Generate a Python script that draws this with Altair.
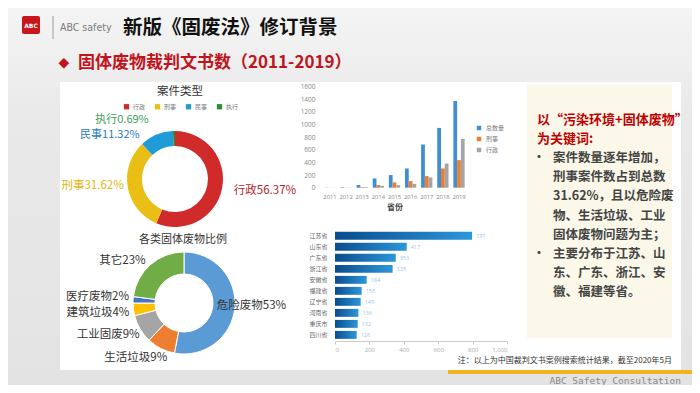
import altair as alt
import pandas as pd

W, H = 684, 377
CJK = "Noto Sans CJK SC"

# ---------------- data ----------------
case_types = ["行政", "刑事", "民事", "执行"]
case_pct = [56.37, 31.62, 11.32, 0.69]
case_colors = ["#d12a2a", "#e9bf16", "#1f9bd8", "#2e8b35"]
case_label_colors = ["#b0262b", "#e3b614", "#2a7bbf", "#3e9e5a"]

waste_types = ["危险废物", "生活垃圾", "工业固废", "建筑垃圾", "医疗废物", "其它"]
waste_pct = [53, 9, 9, 4, 2, 23]
waste_colors = ["#5b9bd5", "#ed7d31", "#a5a5a5", "#ffc000", "#4472c4", "#70ad47"]

years = ["2011", "2012", "2013", "2014", "2015", "2016", "2017", "2018", "2019"]
series = ["总数量", "刑事", "行政"]
total_cases = [3, 8, 42, 147, 200, 305, 684, 947, 1373]
criminal_cases = [1, 2, 10, 42, 84, 105, 184, 305, 437]
admin_cases = [1, 3, 10, 30, 40, 60, 163, 384, 773]
series_colors = ["#3f8fd4", "#ed7d31", "#a5a5a5"]
year_ticks = [0, 200, 400, 600, 800, 1000, 1200, 1400, 1600]

provinces = ["江苏省", "山东省", "广东省", "浙江省", "安徽省", "福建省", "辽宁省", "河南省", "重庆市", "四川省"]
province_cases = [797, 417, 353, 335, 184, 155, 149, 136, 132, 126]
province_ticks = [0, 200, 400, 600, 800, 1000]

box_lines = ["以“污染环境+固体废物”", "为关键词:",
             "案件数量逐年增加，", "刑事案件数占到总数", "31.62%，且以危险废",
             "物、生活垃圾、工业", "固体废物问题为主；",
             "主要分布于江苏、山", "东、广东、浙江、安", "徽、福建等省。"]
bullet_rows = [2, 7]

# ---------------- tables ----------------
case_df = pd.DataFrame({"cat": case_types, "pct": case_pct, "i": range(len(case_types)),
                        "label": [f"{c}{p:.2f}%" for c, p in zip(case_types, case_pct)]})
waste_df = pd.DataFrame({"cat": waste_types, "pct": waste_pct, "i": range(len(waste_types)),
                         "label": [f"{c}{p}%" for c, p in zip(waste_types, waste_pct)]})
rows = []
for yi, y in enumerate(years):
    for s, vals in zip(series, [total_cases, criminal_cases, admin_cases]):
        rows.append({"year": y, "series": s, "value": vals[yi]})
year_df = pd.DataFrame(rows)
prov_df = pd.DataFrame({"prov": provinces, "n": province_cases})
lines_df = pd.DataFrame({"i": range(len(box_lines)), "t": box_lines,
                         "kind": ["kw", "kw"] + ["body"] * 8})
bullet_df = pd.DataFrame({"i": bullet_rows, "t": ["•"] * len(bullet_rows)})
one = pd.DataFrame({"a": [0]})


def deco_rect(x, x2, y, y2, color, **kw):
    return alt.Chart(one).mark_rect(color=color, **kw).encode(
        x=alt.value(x), x2=alt.value(x2), y=alt.value(y), y2=alt.value(y2))


def label_text(txt, x, y, size, color, weight="normal", align="left", font=CJK, baseline="middle"):
    return alt.Chart(pd.DataFrame({"t": [txt]})).mark_text(
        align=align, baseline=baseline, fontSize=size, color=color, fontWeight=weight, font=font
    ).encode(x=alt.value(x), y=alt.value(y), text="t:N")


layers = []

# backgrounds
bg_grad = alt.Gradient(gradient="linear", x1=0, x2=0, y1=0, y2=1,
                       stops=[alt.GradientStop(color="#f4f4f4", offset=0),
                              alt.GradientStop(color="#e9e9e9", offset=0.3),
                              alt.GradientStop(color="#e3e3e3", offset=1)])
layers.append(deco_rect(0, W, 0, H, bg_grad))
layers.append(deco_rect(52, 673, 74, 362, "#ffffff"))
layers.append(deco_rect(519, 664, 77, 330, "#fbf8e9"))
layers.append(deco_rect(440, W, 362, 366, "#f2b41e"))

# header
layers.append(deco_rect(14, 32, 8, 26, "#c8161d", cornerRadius=2))
layers.append(label_text("ABC", 23, 18, 6, "#ffffff", weight="bold", align="center", font="DejaVu Sans"))
layers.append(alt.Chart(one).mark_rule(color="#9a9a9a", strokeWidth=1).encode(
    x=alt.value(45), y=alt.value(8), y2=alt.value(31)))
layers.append(label_text("ABC safety", 52, 20, 10.5, "#7a7a7a",
                         font="Liberation Sans Narrow, DejaVu Sans Condensed, sans-serif"))
layers.append(label_text("新版《固废法》修订背景", 115, 20, 19.5, "#111111", weight="bold"))
layers.append(label_text("◆", 56, 55, 14, "#c0141c", align="center", font="DejaVu Sans"))
layers.append(label_text("固体废物裁判文书数（2011-2019）", 70, 55, 17, "#c0141c", weight="bold"))

# donut 1: case types
C1X, C1Y = 167, 171
layers.append(label_text("案件类型", 172, 84, 11.5, "#333333", align="center"))
layers.append(alt.Chart(case_df).mark_arc(outerRadius=48, innerRadius=33).encode(
    theta=alt.Theta("pct:Q", stack=True),
    order=alt.Order("i:Q"),
    color=alt.Color("cat:N", scale=alt.Scale(domain=case_types, range=case_colors),
                    legend=alt.Legend(orient="none", legendX=115, legendY=95, direction="horizontal",
                                      title=None, symbolType="square", symbolSize=28,
                                      labelFontSize=6, labelFont=CJK, labelColor="#777777",
                                      columnPadding=8, symbolOffset=0, labelOffset=3)),
    x=alt.value(C1X), y=alt.value(C1Y)))


def donut_label(df, cat, cx, cy, r, align, dx, dy, color, size=11.5):
    return alt.Chart(df).transform_window(
        cum="sum(pct)", sort=[alt.SortField("i")]
    ).transform_calculate(mid="datum.cum - datum.pct / 2").transform_filter(
        alt.datum.cat == cat
    ).mark_text(align=align, baseline="middle", dx=dx, dy=dy, fontSize=size, color=color, font=CJK).encode(
        theta=alt.Theta("mid:Q", scale=alt.Scale(domain=[0, 100]), stack=None),
        radius=alt.value(r), x=alt.value(cx), y=alt.value(cy), text="label:N")


layers.append(donut_label(case_df, "行政", C1X, C1Y, 60, "left", 0, 0, case_label_colors[0]))
layers.append(donut_label(case_df, "刑事", C1X, C1Y, 52, "right", 0, -2, case_label_colors[1]))
layers.append(donut_label(case_df, "民事", C1X, C1Y, 55, "right", -14, 7, case_label_colors[2], 11))
layers.append(donut_label(case_df, "执行", C1X, C1Y, 57, "right", -25, -2, case_label_colors[3], 11))

# donut 2: waste categories
C2X, C2Y = 176, 295
layers.append(label_text("各类固体废物比例", 175, 232, 11, "#333333", align="center"))
layers.append(alt.Chart(waste_df).mark_arc(outerRadius=51, innerRadius=29, stroke="#ffffff", strokeWidth=1).encode(
    theta=alt.Theta("pct:Q", stack=True),
    order=alt.Order("i:Q"),
    color=alt.Color("cat:N", scale=alt.Scale(domain=waste_types, range=waste_colors), legend=None),
    x=alt.value(C2X), y=alt.value(C2Y)))
layers.append(donut_label(waste_df, "危险废物", C2X, C2Y, 33, "left", 0, 0, "#333333"))
layers.append(donut_label(waste_df, "生活垃圾", C2X, C2Y, 62, "center", -20, 0, "#333333"))
layers.append(donut_label(waste_df, "工业固废", C2X, C2Y, 55, "right", 3, 4, "#333333"))
layers.append(donut_label(waste_df, "建筑垃圾", C2X, C2Y, 55, "right", 0, 3, "#333333"))
layers.append(donut_label(waste_df, "医疗废物", C2X, C2Y, 55, "right", 0, -3, "#333333"))
layers.append(donut_label(waste_df, "其它", C2X, C2Y, 58, "right", 0, 2, "#333333"))

# grouped column chart by year
layers.append(alt.Chart(year_df).mark_bar().encode(
    x=alt.X("year:N", sort=years,
            scale=alt.Scale(range=[310.7, 462.3], paddingInner=0.3, paddingOuter=0.35),
            axis=alt.Axis(orient="bottom", offset=180 - H, title="省份", titleFont=CJK,
                          titleFontSize=8, titleFontWeight="bold", titleColor="#444444",
                          titlePadding=5, labelFontSize=5.8, labelColor="#888888",
                          labelAngle=0, labelPadding=5, domain=False, ticks=False, grid=False,
                          labelFont="Open Sans", labelOverlap=False, zindex=1)),
    xOffset=alt.XOffset("series:N", sort=series),
    y=alt.Y("value:Q", scale=alt.Scale(domain=[0, 1600], range=[179.7, 78.7], nice=False),
            axis=alt.Axis(orient="left", offset=-309, title=None, values=year_ticks, format="d",
                          labelFontSize=6.5, labelColor="#888888", domain=False, ticks=False,
                          grid=False, labelPadding=2, labelFont="Open Sans", zindex=1)),
    color=alt.Color("series:N", scale=alt.Scale(domain=series, range=series_colors),
                    legend=alt.Legend(orient="none", legendX=468, legendY=117, direction="vertical",
                                      title=None, symbolType="square", symbolSize=20,
                                      labelFontSize=6, labelFont=CJK, labelColor="#777777",
                                      rowPadding=5, labelOffset=4))))

# horizontal province bars
bar_grad = alt.Gradient(gradient="linear", x1=0, x2=1, y1=0, y2=0,
                        stops=[alt.GradientStop(color="#0a4c8c", offset=0),
                               alt.GradientStop(color="#2b97da", offset=1)])
prov_x = alt.Scale(domain=[0, 1000], range=[327, 499], nice=False)
prov_y = alt.Scale(domain=provinces, range=[222.2, 332.5], paddingInner=0.28, paddingOuter=0.15)
prov_bars = alt.Chart(prov_df).mark_bar(color=bar_grad).encode(
    x=alt.X("n:Q", scale=prov_x,
            axis=alt.Axis(orient="bottom", offset=333 - H, title=None, values=province_ticks,
                          labelFontSize=6, labelColor="#aaaaaa", domainColor="#cccccc",
                          tickColor="#cccccc", tickSize=3, grid=False, labelPadding=2,
                          labelFont="Open Sans", zindex=1)),
    y=alt.Y("prov:N", sort=provinces, scale=prov_y,
            axis=alt.Axis(orient="left", offset=-327, title=None, labelFontSize=6,
                          labelFont=CJK, labelColor="#666666", domain=False, ticks=False,
                          grid=False, labelPadding=8, zindex=1)))
prov_labels = alt.Chart(prov_df).mark_text(align="left", baseline="middle", dx=4, fontSize=5.5,
                                           color="#9cc5e8", font="Open Sans").encode(
    x=alt.X("n:Q", scale=prov_x),
    y=alt.Y("prov:N", sort=provinces, scale=prov_y),
    text="n:Q")
layers.append(alt.layer(prov_bars, prov_labels))

# text box
line_y = alt.Scale(type="point", domain=list(range(len(box_lines))), range=[112, 284], padding=0)
layers.append(alt.Chart(lines_df).transform_filter(alt.datum.kind == "kw").mark_text(
    align="left", baseline="middle", fontSize=13, fontWeight="bold", color="#c00000", font=CJK).encode(
    x=alt.value(529), y=alt.Y("i:O", scale=line_y, axis=None), text="t:N"))
layers.append(alt.Chart(lines_df).transform_filter(alt.datum.kind == "body").mark_text(
    align="left", baseline="middle", fontSize=12.5, fontWeight="bold", color="#444444", font=CJK).encode(
    x=alt.value(545), y=alt.Y("i:O", scale=line_y, axis=None), text="t:N"))
layers.append(alt.Chart(bullet_df).mark_text(
    align="center", baseline="middle", fontSize=12, fontWeight="bold", color="#444444", font=CJK).encode(
    x=alt.value(531), y=alt.Y("i:O", scale=line_y, axis=None), text="t:N"))

# notes and footer
layers.append(label_text("注：以上为中国裁判文书案例搜索统计结果，截至2020年5月", 664, 353, 8, "#333333", align="right"))
layers.append(label_text("ABC Safety Consultation", 673, 376, 9.5, "#8a8a8a", align="right",
                         font="DejaVu Sans Mono, monospace", baseline="alphabetic"))

chart = alt.layer(*layers).resolve_scale(
    x="independent", y="independent", color="independent", theta="independent", xOffset="independent"
).properties(width=W, height=H, padding=0, autosize=alt.AutoSizeParams(type="none")).configure_view(
    stroke=None).configure(background="#e9e9e9")

chart.save("out.html", embed_options={"renderer": "svg", "actions": False})
